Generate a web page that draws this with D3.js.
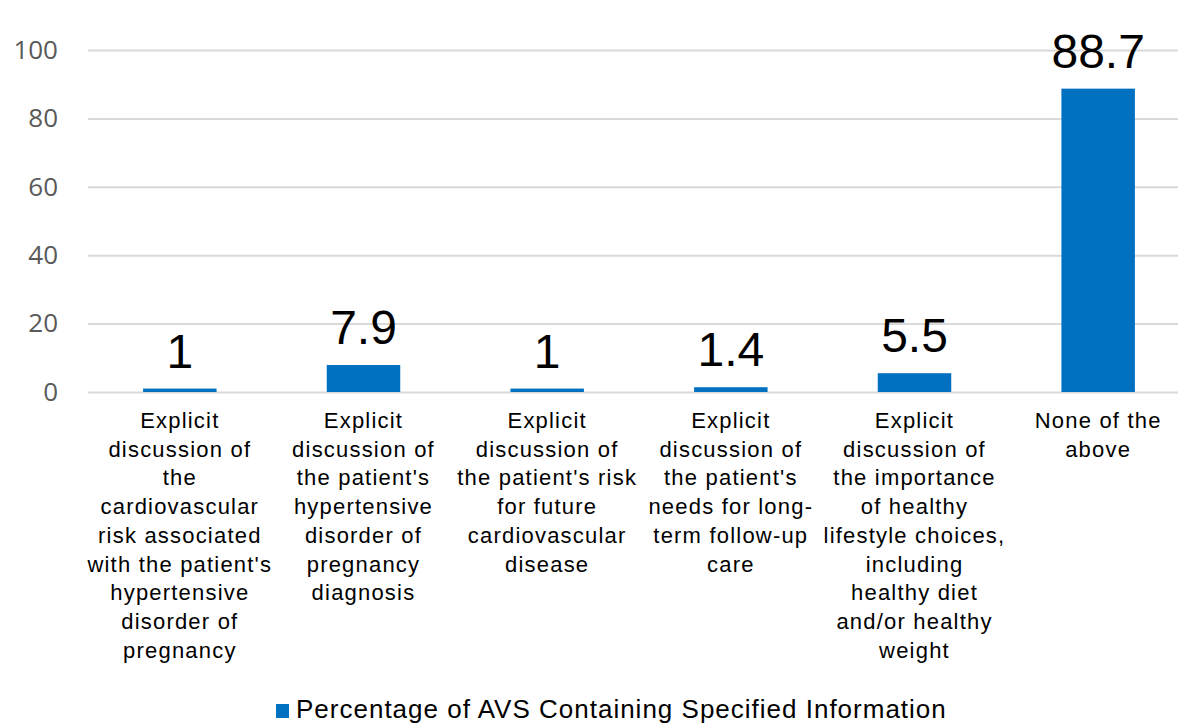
<!DOCTYPE html>
<html>
<head>
<meta charset="utf-8">
<script src="https://cdn.jsdelivr.net/npm/d3@7"></script>
<style>
  body { margin: 0; background: #fff; }
  svg { display: block; }
</style>
</head>
<body>
<div id="chart"></div>
<script>
// data
var categories = [
  ["Explicit", "discussion of", "the", "cardiovascular", "risk associated", "with the patient's", "hypertensive", "disorder of", "pregnancy"],
  ["Explicit", "discussion of", "the patient's", "hypertensive", "disorder of", "pregnancy", "diagnosis"],
  ["Explicit", "discussion of", "the patient's risk", "for future", "cardiovascular", "disease"],
  ["Explicit", "discussion of", "the patient's", "needs for long-", "term follow-up", "care"],
  ["Explicit", "discussion of", "the importance", "of healthy", "lifestyle choices,", "including", "healthy diet", "and/or healthy", "weight"],
  ["None of the", "above"]
];
var values = [1, 7.9, 1, 1.4, 5.5, 88.7];
var valueLabels = ["1", "7.9", "1", "1.4", "5.5", "88.7"];
var yTicks = [0, 20, 40, 60, 80, 100];
var seriesName = "Percentage of AVS Containing Specified Information";

var W = 1178, H = 723;
var margin = {left: 88, top: 50, bottom: 331};
var plotRight = 1190;
var barColor = "#0070c0";

var svg = d3.select("#chart").append("svg")
    .attr("width", W)
    .attr("height", H);

var x = d3.scaleBand()
    .domain(d3.range(values.length))
    .range([margin.left, plotRight])
    .padding(0);

var y = d3.scaleLinear()
    .domain([0, 100])
    .range([H - margin.bottom, margin.top]);

// gridlines
svg.append("g")
    .attr("class", "grid")
    .attr("transform", "translate(" + margin.left + ",0)")
    .call(d3.axisLeft(y)
        .tickValues(yTicks)
        .tickSize(-(W - margin.left))
        .tickFormat(""))
    .call(function(g) { g.select(".domain").remove(); })
    .selectAll("line")
    .style("stroke", "#d9d9d9")
    .style("stroke-width", 2);

// y tick labels
svg.append("g")
    .attr("transform", "translate(" + 58 + ",0)")
    .call(d3.axisLeft(y).tickValues(yTicks).tickSize(0).tickPadding(0))
    .call(function(g) { g.select(".domain").remove(); })
    .selectAll("text")
    .style("font-family", "'Open Sans', sans-serif")
    .style("font-size", "26px")
    .style("fill", "#595959");

// bars
var barW = x.bandwidth() * 0.4;
svg.selectAll(".bar")
    .data(values)
  .enter().append("rect")
    .attr("class", "bar")
    .attr("x", function(d, i) { return x(i) + (x.bandwidth() - barW) / 2; })
    .attr("y", function(d) { return y(d); })
    .attr("width", barW)
    .attr("height", function(d) { return y(0) - y(d); })
    .style("fill", barColor);

// value labels
svg.selectAll(".vlabel")
    .data(values)
  .enter().append("text")
    .attr("class", "vlabel")
    .attr("x", function(d, i) { return x(i) + x.bandwidth() / 2; })
    .attr("y", function(d) { return y(d) - 21; })
    .attr("text-anchor", "middle")
    .style("font-family", "'Liberation Sans', Arial, sans-serif")
    .style("font-size", "48px")
    .style("fill", "#000")
    .text(function(d, i) { return valueLabels[i]; });

// category labels
var lineH = 28.7;
var catG = svg.selectAll(".cat")
    .data(categories)
  .enter().append("text")
    .attr("class", "cat")
    .attr("text-anchor", "middle")
    .style("font-family", "'Liberation Sans', Arial, sans-serif")
    .style("font-size", "22px")
    .style("letter-spacing", "1.2px")
    .style("fill", "#000");

catG.selectAll("tspan")
    .data(function(d, i) { return d.map(function(t) { return {t: t, i: i}; }); })
  .enter().append("tspan")
    .attr("x", function(d) { return x(d.i) + x.bandwidth() / 2; })
    .attr("y", function(d, j) { return y(0) + 36 + j * lineH; })
    .text(function(d) { return d.t; });

// legend
var legend = svg.append("g").attr("transform", "translate(276,704)");
legend.append("rect")
    .attr("width", 13)
    .attr("height", 14)
    .style("fill", barColor);
legend.append("text")
    .attr("x", 20)
    .attr("y", 14)
    .style("font-family", "'Liberation Sans', Arial, sans-serif")
    .style("font-size", "26px")
    .style("letter-spacing", "1px")
    .style("fill", "#000")
    .text(seriesName);
</script>
</body>
</html>
